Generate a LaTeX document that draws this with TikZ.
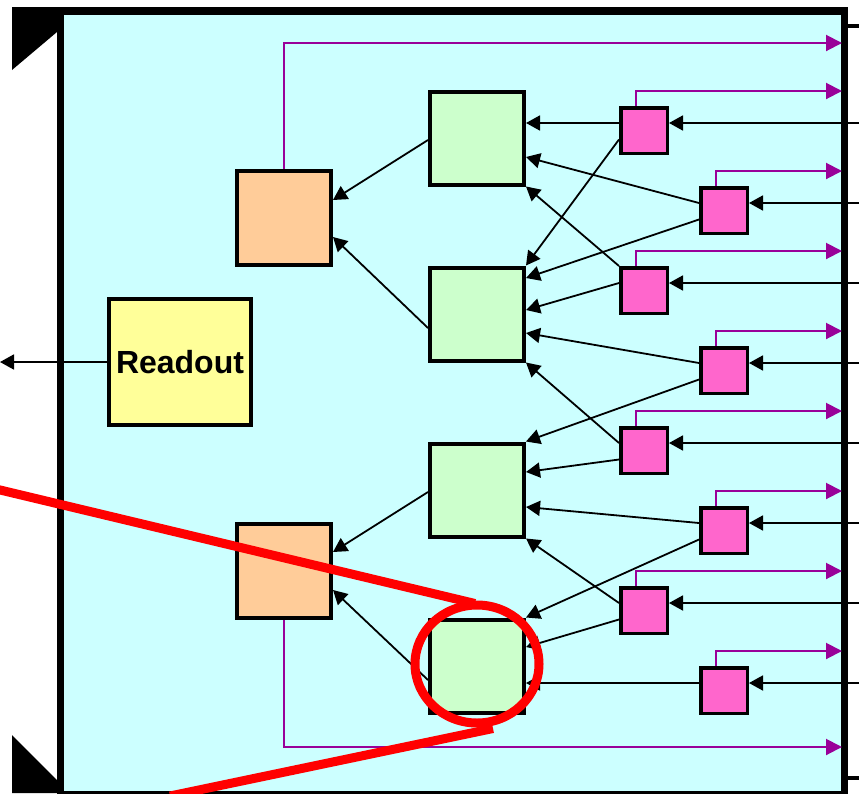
\documentclass[tikz,border=0pt]{standalone}
\usepackage{fontspec}
\setmainfont{Liberation Sans}
\usetikzlibrary{arrows.meta,shapes.geometric}

\definecolor{panel}{HTML}{CCFFFF}
\definecolor{groupfill}{HTML}{CCFFCC}
\definecolor{sumfill}{HTML}{FFCC99}
\definecolor{readfill}{HTML}{FFFF99}
\definecolor{chanfill}{HTML}{FF66CC}
\definecolor{trigline}{HTML}{990099}

\begin{document}
\begin{tikzpicture}
  [
    x = 1pt, y = -1pt,
    box/.style = {draw, line width=4pt, inner sep=0pt},
    group/.style = {box, fill=groupfill, minimum width=94pt, minimum height=93pt},
    summer/.style = {box, fill=sumfill, minimum width=94pt, minimum height=94pt},
    chan/.style = {box, line width=3.5pt, fill=chanfill, minimum width=46.5pt, minimum height=45.5pt},
    readout/.style = {box, fill=readfill, minimum width=142pt, minimum height=126pt,
                      font=\bfseries\fontsize{32}{36}\selectfont},
    wire/.style = {line width=1.8pt, -{Triangle[length=14pt,width=15pt]}},
    trig/.style = {trigline, line width=2pt, -{Triangle[length=16pt,width=16pt]}},
    lens/.style = {red, line width=9pt},
  ]

  \useasboundingbox (0,0) rectangle (859,793);

  % board outline
  \draw[line width=7.5pt, fill=panel] (60.5,11) rectangle (844.5,795);
  \fill (12,7) -- (57,7) -- (57,32) -- (12,70) -- cycle;
  \fill (12,735) -- (57,780) -- (57,793) -- (12,793) -- cycle;
  \draw[line width=3.5pt] (846,26) -- (859,26);
  \draw[line width=3.5pt] (846,778) -- (859,778);

  \node[readout] (ro) at (180,362) {Readout};
  \node[summer] (cb1) at (284,218) {};
  \node[summer] (cb2) at (284,571) {};
  \foreach \i/\gy in {1/138,2/314,3/490,4/666}
    \node[group] (mg\i) at (477,\gy) {};
  \foreach \i/\px in {1/644,2/724,3/644,4/724,5/644,6/724,7/644,8/724}
    \node[chan] (ch\i) at (\px,50.5+80*\i) {};

  % channel inputs and trigger outputs
  \foreach \i in {1,...,8}{
    \coordinate (in\i) at (859,43+80*\i);
    \coordinate (out\i) at (842,11+80*\i);
    \draw[wire] (in\i) -- (in\i -| ch\i.east);
    \draw[trig] ([xshift=-8pt]ch\i.north) |- (out\i);
  }
  \coordinate (outtop) at (842,43);
  \coordinate (outbot) at (842,747);
  \draw[trig] (cb1.north) |- (outtop);
  \draw[trig] (cb2.south) |- (outbot);

  \coordinate (rdout) at (0,362);
  \draw[wire] (ro.west) -- (rdout);

  % channels into groups
  \draw[wire] ([yshift=7.5pt]ch1.west) -- ([yshift=15pt]mg1.east);
  \draw[wire] ([yshift=-9pt]ch1.west) -- (mg2.north east);
  \draw[wire] ([yshift=7.5pt]ch2.west) -- ([yshift=-19pt]mg1.east);
  \draw[wire] ([yshift=-9pt]ch2.west) -- ([yshift=36pt]mg2.east);
  \draw[wire] (ch3.north west) -- (mg1.south east);
  \draw[wire] ([yshift=7.5pt]ch3.west) -- ([yshift=4pt]mg2.east);
  \draw[wire] ([yshift=7.5pt]ch4.west) -- ([yshift=-19pt]mg2.east);
  \draw[wire] ([yshift=-9pt]ch4.west) -- (mg3.north east);
  \draw[wire] ([yshift=7.5pt]ch5.west) -- (mg2.south east);
  \draw[wire] ([yshift=-9pt]ch5.west) -- ([yshift=18pt]mg3.east);
  \draw[wire] ([yshift=7.5pt]ch6.west) -- ([yshift=-17pt]mg3.east);
  \draw[wire] ([yshift=-9pt]ch6.west) -- (mg4.north east);
  \draw[wire] ([yshift=7.5pt]ch7.west) -- (mg3.south east);
  \draw[wire] ([yshift=-9pt]ch7.west) -- ([yshift=19pt]mg4.east);
  \draw[wire] ([yshift=7.5pt]ch8.west) -- ([yshift=-17pt]mg4.east);

  % groups into sums
  \draw[wire] ([yshift=-2pt]mg1.west) -- ([yshift=18pt]cb1.east);
  \draw[wire] ([yshift=-14pt]mg2.west) -- ([yshift=-19pt]cb1.east);
  \draw[wire] ([yshift=-2pt]mg3.west) -- ([yshift=19pt]cb2.east);
  \draw[wire] ([yshift=-14pt]mg4.west) -- ([yshift=-19pt]cb2.east);

  % highlight
  \node[lens, draw, ellipse, inner sep=0pt, minimum width=124pt, minimum height=118pt] (hl) at (477,664) {};
  \coordinate (lead1) at (-4,489);
  \coordinate (lead2) at (170,796);
  \draw[lens] (lead1) -- ([xshift=-2pt,yshift=-3pt]hl.north);
  \draw[lens] (lead2) -- ([xshift=16pt,yshift=-1pt]hl.south);

\end{tikzpicture}
\end{document}
